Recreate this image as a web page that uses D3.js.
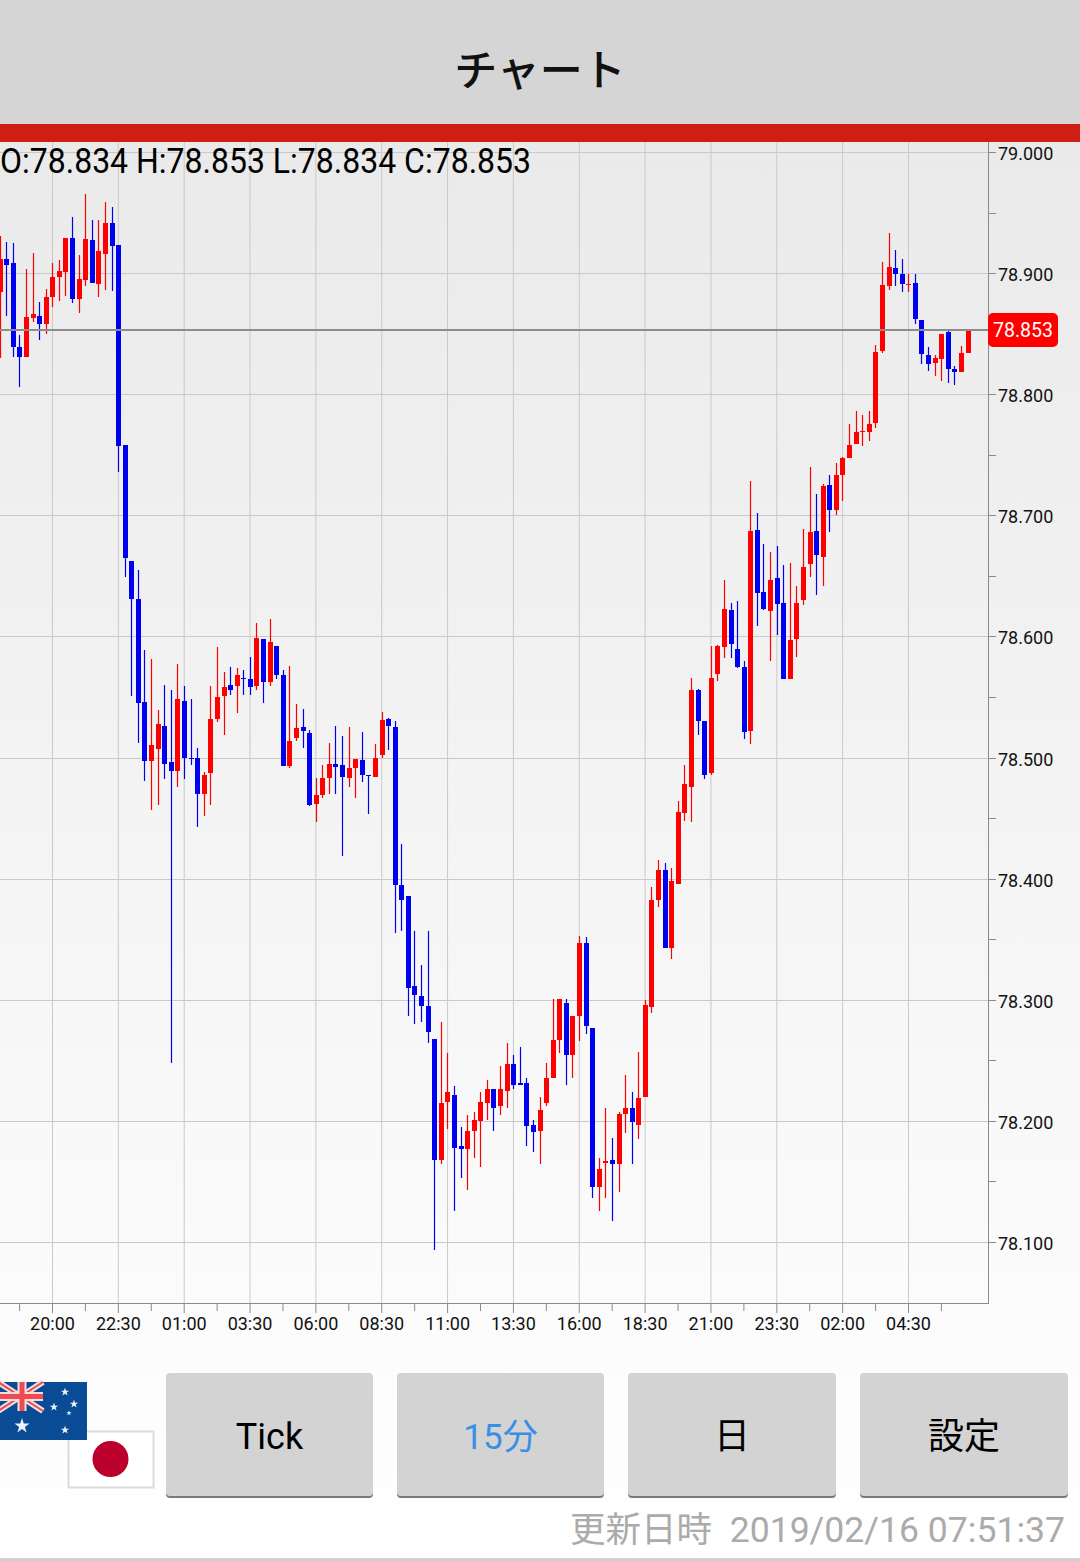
<!DOCTYPE html>
<html>
<head>
<meta charset="utf-8">
<script src="https://cdn.jsdelivr.net/npm/d3@7"></script>
<style>
html, body { margin: 0; padding: 0; background: #fff; }
svg { display: block; }
text { font-family: Roboto, "Noto Sans CJK JP", sans-serif; }
</style>
</head>
<body>
<div id="chart"></div>
<script>
// 15 minute candles, first one is 8 bars before the 20:00 tick
const opens = [
  78.884,78.912,78.908,78.839,78.831,78.863,78.865,78.858,
  78.880,78.897,78.901,78.929,78.879,78.894,78.927,78.891,78.916,78.941,
  78.923,78.758,78.662,78.631,78.546,78.497,78.507,78.526,78.496,78.489,
  78.547,78.500,78.500,78.470,78.487,78.532,78.551,78.560,78.559,78.566,
  78.565,78.559,78.598,78.562,78.592,78.568,78.493,78.516,78.525,78.520,
  78.462,78.469,78.483,78.495,78.494,78.483,78.491,78.498,78.486,78.484,
  78.502,78.532,78.525,78.395,78.386,78.311,78.303,78.295,78.268,78.168,
  78.216,78.221,78.179,78.177,78.192,78.200,78.215,78.226,78.212,78.225,
  78.247,78.231,78.231,78.197,78.192,78.215,78.235,78.267,78.297,78.254,
  78.287,78.347,78.277,78.145,78.165,78.168,78.164,78.206,78.211,78.197,
  78.220,78.294,78.382,78.407,78.343,78.396,78.454,78.476,78.556,78.530,
  78.487,78.569,78.591,78.622,78.590,78.575,78.522,78.688,78.637,78.621,
  78.648,78.628,78.565,78.598,78.630,78.660,78.687,78.666,78.725,78.704,
  78.733,78.747,78.759,78.769,78.769,78.776,78.836,78.889,78.904,78.899,
  78.890,78.892,78.861,78.832,78.826,78.829,78.851,78.821,78.818,78.834
];
const closes = [
  78.912,78.907,78.839,78.831,78.864,78.866,78.858,78.880,
  78.897,78.902,78.929,78.879,78.895,78.928,78.892,78.918,78.941,78.922,
  78.757,78.665,78.631,78.545,78.497,78.510,78.528,78.495,78.489,78.548,
  78.500,78.499,78.470,78.486,78.532,78.550,78.558,78.556,78.568,78.565,
  78.558,78.599,78.562,78.595,78.568,78.493,78.514,78.524,78.522,78.461,
  78.469,78.483,78.495,78.492,78.484,78.491,78.499,78.486,78.485,78.500,
  78.531,78.526,78.395,78.382,78.310,78.304,78.295,78.273,78.168,78.215,
  78.224,78.178,78.177,78.192,78.201,78.216,78.226,78.211,78.226,78.247,
  78.230,78.230,78.196,78.191,78.209,78.235,78.267,78.301,78.254,78.287,
  78.347,78.278,78.145,78.160,78.167,78.164,78.206,78.211,78.199,78.219,
  78.296,78.382,78.407,78.343,78.398,78.455,78.478,78.556,78.530,78.486,
  78.566,78.592,78.623,78.594,78.575,78.521,78.687,78.636,78.623,78.647,
  78.627,78.565,78.597,78.628,78.657,78.686,78.667,78.724,78.704,78.733,
  78.747,78.758,78.769,78.770,78.775,78.835,78.890,78.905,78.899,78.891,
  78.891,78.862,78.833,78.825,78.830,78.850,78.821,78.818,78.834,78.853
];
const highs = [
  78.931,78.926,78.925,78.849,78.903,78.917,78.876,78.887,
  78.908,78.911,78.929,78.946,78.915,78.965,78.944,78.944,78.959,78.955,
  78.923,78.758,78.662,78.655,78.589,78.581,78.539,78.560,78.556,78.577,
  78.559,78.548,78.508,78.488,78.559,78.591,78.571,78.575,78.574,78.572,
  78.583,78.611,78.598,78.614,78.592,78.572,78.576,78.544,78.540,78.523,
  78.483,78.494,78.512,78.526,78.518,78.525,78.499,78.521,78.486,78.511,
  78.538,78.533,78.530,78.429,78.386,78.357,78.329,78.357,78.268,78.282,
  78.256,78.229,78.195,78.205,78.207,78.224,78.234,78.226,78.245,78.264,
  78.254,78.261,78.235,78.201,78.220,78.248,78.301,78.301,78.301,78.287,
  78.353,78.352,78.277,78.169,78.211,78.186,78.207,78.238,78.224,78.257,
  78.300,78.393,78.415,78.413,78.409,78.464,78.494,78.566,78.557,78.530,
  78.592,78.593,78.647,78.628,78.629,78.580,78.728,78.702,78.676,78.670,
  78.675,78.659,78.661,78.642,78.689,78.740,78.718,78.726,78.733,78.743,
  78.748,78.775,78.786,78.783,78.786,78.841,78.909,78.933,78.919,78.912,
  78.899,78.899,78.861,78.839,78.832,78.850,78.852,78.823,78.840,78.853
];
const lows = [
  78.830,78.865,78.831,78.806,78.831,78.860,78.845,78.850,
  78.872,78.877,78.881,78.875,78.867,78.889,78.892,78.880,78.886,78.885,
  78.736,78.649,78.551,78.512,78.481,78.457,78.461,78.482,78.248,78.476,
  78.482,78.494,78.443,78.452,78.461,78.529,78.519,78.552,78.537,78.552,
  78.552,78.556,78.545,78.559,78.565,78.493,78.491,78.514,78.508,78.460,
  78.447,78.467,78.470,78.470,78.419,78.476,78.467,78.480,78.453,78.484,
  78.500,78.506,78.355,78.357,78.287,78.280,78.282,78.264,78.093,78.164,
  78.193,78.126,78.153,78.143,78.169,78.162,78.201,78.192,78.205,78.211,
  78.226,78.230,78.179,78.174,78.164,78.212,78.235,78.256,78.230,78.235,
  78.266,78.272,78.136,78.126,78.136,78.117,78.141,78.190,78.164,78.185,
  78.220,78.289,78.377,78.343,78.334,78.396,78.448,78.447,78.519,78.482,
  78.486,78.563,78.582,78.582,78.574,78.515,78.511,78.609,78.622,78.580,
  78.601,78.565,78.565,78.583,78.626,78.649,78.634,78.642,78.686,78.700,
  78.712,78.747,78.759,78.757,78.761,78.772,78.834,78.886,78.889,78.884,
  78.884,78.858,78.825,78.819,78.815,78.811,78.809,78.808,78.818,78.834
];
const timeLabels = ['20:00','22:30','01:00','03:30','06:00','08:30','11:00','13:30','16:00','18:30','21:00','23:30','02:00','04:30'];
const priceTicks = [78.1,78.2,78.3,78.4,78.5,78.6,78.7,78.8,78.9,79.0];
const priceMinorTicks = [78.15,78.25,78.35,78.45,78.55,78.65,78.75,78.85,78.95];
const lastPrice = 78.853;
const ohlcText = 'O:78.834 H:78.853 L:78.834 C:78.853';
const buttons = ['Tick', '15分', '日', '設定'];
const updatedLabel = '更新日時';
const updatedTime = '2019/02/16 07:51:37';

const width = 1080;
const height = 1561;
const plotTop = 142;
const plotBottom = 1303;
const plotRight = 988;
const bodyWidth = 5;

const svg = d3.select('#chart').append('svg')
  .attr('width', width)
  .attr('height', height);

const grad = svg.append('defs').append('linearGradient')
  .attr('id', 'bg').attr('x1', 0).attr('x2', 0).attr('y1', 0).attr('y2', 1);
grad.append('stop').attr('offset', 0).attr('stop-color', '#eaeaea');
grad.append('stop').attr('offset', 1).attr('stop-color', '#ffffff');

svg.append('rect')
  .attr('y', plotTop).attr('width', width).attr('height', height - plotTop)
  .attr('fill', 'url(#bg)');

// bar index 8 is the 20:00 tick, one label every 10 bars
const x = d3.scaleLinear().domain([8, 138]).range([52, 908]);
const y = d3.scaleLinear().domain([78.1, 79]).rangeRound([1242, 152]);

const majorBars = timeLabels.map((d, i) => 8 + i * 10);
const minorBars = d3.range(15).map(i => 3 + i * 10);
const barX = i => Math.round(x(i) + 0.3) + 0.5;

// grid
const gridX = svg.append('g')
  .attr('transform', `translate(0,${plotBottom})`)
  .call(d3.axisBottom(x).tickValues(majorBars).tickSize(-(plotBottom - plotTop)).tickFormat(''));
const gridY = svg.append('g')
  .call(d3.axisLeft(y).tickValues(priceTicks).tickSize(-plotRight).tickFormat(''));
[gridX, gridY].forEach(g => {
  g.select('.domain').remove();
  g.selectAll('line').attr('stroke', '#c9c9c9').attr('stroke-width', 1);
});

// axes
const minorAxisX = svg.append('g')
  .attr('transform', `translate(0,${plotBottom})`)
  .call(d3.axisBottom(x).tickValues(minorBars).tickSize(8).tickFormat(''));
const axisX = svg.append('g')
  .attr('transform', `translate(0,${plotBottom})`)
  .call(d3.axisBottom(x).tickValues(majorBars).tickSize(10).tickPadding(4)
    .tickFormat((d, i) => timeLabels[i]));
axisX.select('.domain').remove();
minorAxisX.select('.domain').remove();

const minorAxisY = svg.append('g')
  .attr('transform', `translate(${plotRight},0)`)
  .call(d3.axisRight(y).tickValues(priceMinorTicks).tickSize(8).tickFormat(''));
const axisY = svg.append('g')
  .attr('transform', `translate(${plotRight},0)`)
  .call(d3.axisRight(y).tickValues(priceTicks).tickSize(8).tickPadding(2)
    .tickFormat(d3.format('.3f')));
axisY.select('.domain').remove();
minorAxisY.select('.domain').remove();
axisY.selectAll('text').attr('dy', '0.43em');

[axisX, axisY, minorAxisX, minorAxisY].forEach(g => {
  g.selectAll('line').attr('stroke', '#8a8a8a');
  g.selectAll('text').attr('fill', '#111').attr('font-size', 18)
    .attr('font-family', 'Roboto');
});

svg.append('line')
  .attr('x1', 0).attr('x2', plotRight + 0.5)
  .attr('y1', plotBottom + 0.5).attr('y2', plotBottom + 0.5)
  .attr('stroke', '#8a8a8a');
svg.append('line')
  .attr('x1', plotRight + 0.5).attr('x2', plotRight + 0.5)
  .attr('y1', plotTop).attr('y2', plotBottom + 1)
  .attr('stroke', '#8a8a8a');

// candles
const candleColor = i => closes[i] >= opens[i] ? '#ff0000' : '#0000f0';
const candles = svg.append('g').selectAll('g')
  .data(opens.map((d, i) => i))
  .join('g');

candles.append('line')
  .attr('x1', d => barX(d)).attr('x2', d => barX(d))
  .attr('y1', d => y(highs[d])).attr('y2', d => y(lows[d]))
  .attr('stroke', candleColor)
  .attr('stroke-width', 1.2);

candles.append('rect')
  .attr('x', d => barX(d) - bodyWidth / 2)
  .attr('y', d => y(Math.max(opens[d], closes[d])))
  .attr('width', bodyWidth)
  .attr('height', d => Math.max(1, Math.abs(y(opens[d]) - y(closes[d]))))
  .attr('fill', candleColor);

// last price line and badge
svg.append('line')
  .attr('x1', 0).attr('x2', plotRight)
  .attr('y1', y(lastPrice)).attr('y2', y(lastPrice))
  .attr('stroke', '#8c8c8c')
  .attr('stroke-width', 2);
svg.append('rect')
  .attr('x', plotRight).attr('y', y(lastPrice) - 17)
  .attr('width', 70).attr('height', 34).attr('rx', 5)
  .attr('fill', '#ff0000');
svg.append('text')
  .attr('x', 1023).attr('y', y(lastPrice))
  .attr('dy', '0.36em')
  .attr('text-anchor', 'middle')
  .attr('font-size', 19.5)
  .attr('fill', '#fff')
  .text(d3.format('.3f')(lastPrice));

// header
svg.append('rect').attr('width', width).attr('height', 124).attr('fill', '#d5d5d5');
svg.append('rect').attr('y', 124).attr('width', width).attr('height', 18).attr('fill', '#cf1f12');
svg.append('text')
  .attr('x', 540).attr('y', 86)
  .attr('text-anchor', 'middle')
  .attr('font-size', 43)
  .attr('font-weight', 500)
  .attr('font-family', '"Noto Sans CJK JP"')
  .attr('fill', '#111')
  .text('チャート');
// the app draws this line narrower than plain Roboto
svg.append('text')
  .attr('transform', 'translate(0,173) scale(0.889,1)')
  .attr('font-size', 36)
  .attr('fill', '#000')
  .text(ohlcText);

// flags
const flags = svg.append('g');
flags.append('rect').attr('x', 68.5).attr('y', 1431.5).attr('width', 85).attr('height', 56)
  .attr('fill', '#fff').attr('stroke', '#dcdcdc').attr('stroke-width', 2);
flags.append('circle').attr('cx', 110.5).attr('cy', 1459).attr('r', 18).attr('fill', '#bc002d');

flags.append('rect').attr('x', 0).attr('y', 1382).attr('width', 87).attr('height', 58).attr('fill', '#0a4b96');
const jack = flags.append('g');
jack.append('path').attr('d', 'M-2,1382L43,1411M43,1382L-2,1411')
  .attr('stroke', '#f3dede').attr('stroke-width', 6);
jack.append('path').attr('d', 'M-2,1382L43,1411M43,1382L-2,1411')
  .attr('stroke', '#ee4a50').attr('stroke-width', 2);
jack.append('path').attr('d', 'M22,1382V1411M-2,1396.5H43')
  .attr('stroke', '#f3dede').attr('stroke-width', 9);
jack.append('path').attr('d', 'M22,1382V1411M-2,1396.5H43')
  .attr('stroke', '#ee4a50').attr('stroke-width', 5);
const stars = d3.symbol().type(d3.symbolStar);
[[22, 1426, 70], [65, 1392, 22], [74, 1404, 22], [54, 1407, 22], [69, 1413, 9], [65, 1430, 22]].forEach(s => {
  flags.append('path')
    .attr('d', stars.size(s[2])())
    .attr('transform', `translate(${s[0]},${s[1]})`)
    .attr('fill', '#eef3fa');
});

// buttons
const buttonX = [166, 397, 628, 860];
const buttonW = [207, 207, 208, 208];
buttons.forEach((label, i) => {
  svg.append('rect')
    .attr('x', buttonX[i]).attr('y', 1375).attr('width', buttonW[i]).attr('height', 123).attr('rx', 4)
    .attr('fill', '#7a7a7a');
  svg.append('rect')
    .attr('x', buttonX[i]).attr('y', 1373).attr('width', buttonW[i]).attr('height', 123).attr('rx', 4)
    .attr('fill', '#d3d3d3');
  svg.append('text')
    .attr('x', buttonX[i] + buttonW[i] / 2).attr('y', 1449)
    .attr('text-anchor', 'middle')
    .attr('font-size', i === 1 ? 35 : 36)
    .attr('fill', i === 1 ? '#3a8ee6' : '#000')
    .text(label);
});

// footer
svg.append('text')
  .attr('x', 570).attr('y', 1542)
  .attr('font-size', 35.5)
  .attr('fill', '#ababab')
  .text(updatedLabel);
svg.append('text')
  .attr('x', 1065).attr('y', 1542)
  .attr('text-anchor', 'end')
  .attr('font-size', 35.6)
  .attr('fill', '#ababab')
  .text(updatedTime);
svg.append('rect').attr('y', 1558).attr('width', width).attr('height', 3).attr('fill', '#cfcfcf');
</script>
</body>
</html>
